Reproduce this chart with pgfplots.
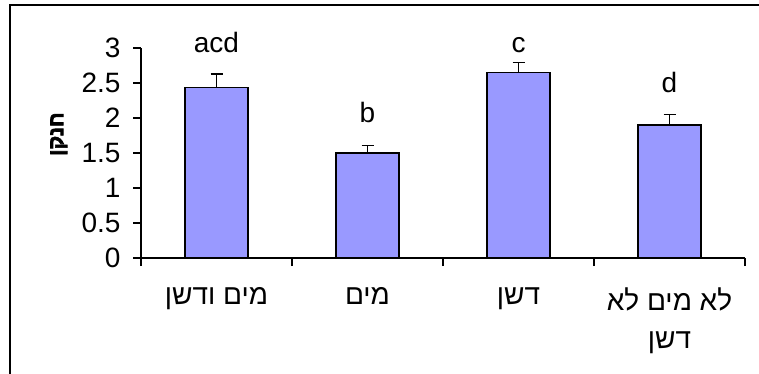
\documentclass[border=0pt]{standalone}
\usepackage{pgfplots}
\pgfplotsset{compat=1.18}
\usepackage{fontspec}
\setmainfont{Liberation Sans}
\newfontfamily\hebfont[Script=Hebrew]{Liberation Sans}
\newfontfamily\hebbold[Script=Hebrew, FakeBold=3]{Liberation Sans Bold}
\TeXXeTstate=1
\definecolor{barfill}{HTML}{9999FF}
\begin{document}
\begin{tikzpicture}[x=1pt,y=1pt]
\useasboundingbox (0,0) rectangle (759,373);
\begin{scope}
\clip (0,0) rectangle (759,373);
\draw[line width=1.5pt] (10,-20) -- (10,368) -- (780,368);
\end{scope}
\begin{axis}[
  at={(141pt,115pt)}, anchor=south west,
  scale only axis, width=604pt, height=210pt,
  xmin=-0.5, xmax=3.5, ymin=0, ymax=3,
  clip=false,
  axis x line*=bottom, axis y line*=left,
  axis line style={line width=1.3pt, black},
  ytick={0,0.5,1,1.5,2,2.5,3},
  tick align=outside, major tick length=8pt, minor tick length=8pt,
  tick style={line width=1.3pt, black},
  xtick={0,1,2,3},
  xticklabels={{\hebfont\beginR מים ודשן\endR},{\hebfont\beginR מים\endR},{\hebfont\beginR דשן\endR},{\hebfont\beginR לא מים לא\endR\\\hebfont\beginR דשן\endR}},
  minor xtick={-0.5,0.5,1.5,2.5,3.5},
  major x tick style={draw=none},
  ylabel={\hebbold\beginR חנקן\endR},
  ylabel style={at={(axis description cs:-0.136,0.59)}, anchor=center, font=\fontsize{21}{22}\selectfont},
  ticklabel style={font=\fontsize{28}{38}\selectfont},
  y tick label style={xshift=-9pt},
  /pgf/number format/assume math mode=true,
  x tick label style={align=center, anchor=north, yshift=-18pt},
]
\addplot[ybar, bar width=63pt, fill=barfill, draw=black, line width=1.3pt,
  error bars/.cd, y dir=plus, y explicit,
  error bar style={line width=1.3pt, black},
  error mark options={rotate=90, mark size=6pt, line width=1.3pt, black}]
  coordinates {(0,2.44) +- (0,0.19) (1,1.50) +- (0,0.11) (2,2.65) +- (0,0.14) (3,1.90) +- (0,0.15)};
\node[anchor=base, font=\fontsize{28}{30}\selectfont] at (axis cs:0,2.93) {acd};
\node[anchor=base, font=\fontsize{28}{30}\selectfont] at (axis cs:1,1.93) {b};
\node[anchor=base, font=\fontsize{28}{30}\selectfont] at (axis cs:2,2.93) {c};
\node[anchor=base, font=\fontsize{28}{30}\selectfont] at (axis cs:3,2.36) {d};
\end{axis}
\end{tikzpicture}
\end{document}
